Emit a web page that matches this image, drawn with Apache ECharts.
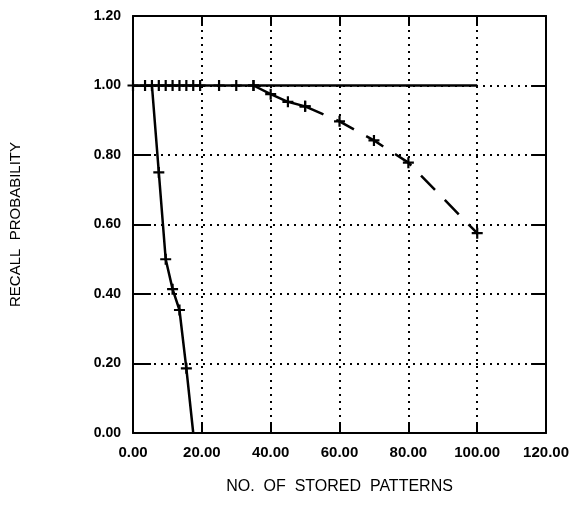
<!DOCTYPE html>
<html>
<head>
<meta charset="utf-8">
<script src="https://cdn.jsdelivr.net/npm/echarts@6/dist/echarts.min.js"></script>
<style>
  html, body { margin: 0; padding: 0; background: #fff; }
  #chart { width: 572px; height: 511px; }
</style>
</head>
<body>
<div id="chart"></div>
<script>
// values
const xTicks = [0, 20, 40, 60, 80, 100, 120];
const yTicks = [0, 0.2, 0.4, 0.6, 0.8, 1.0, 1.2];

// flat line at 1.00
const flatX = [0, 3.5, 5.5, 7.5, 9.5, 11.5, 13.5, 15.5, 17.5, 19.5, 25, 30, 35];
const flatEnd = 100;
// curve leaving 1.00 at 35 (solid part, then dashed)
const solidX = [35, 40, 45, 50];
const solidY = [1.0, 0.975, 0.953, 0.94];
const dashX = [50, 60, 70, 80, 100];
const dashY = [0.94, 0.897, 0.842, 0.778, 0.575];
// steep line
const steepX = [5.5, 7.5, 9.5, 11.5, 13.5, 15.5, 17.5];
const steepY = [1.0, 0.75, 0.5, 0.414, 0.354, 0.186, 0.0];

const plus = 'path://M4,0H6V10H4Z M0,4H10V6H0Z';
const font = 'Liberation Sans';

const pairs = (xs, ys) => xs.map((x, i) => [x, ys[i]]);

const flatData = flatX.map(x => [x, 1.0]);
flatData.push({ value: [flatEnd, 1.0], symbol: 'none' });

const steepData = pairs(steepX, steepY).map((p, i, a) =>
  (i === 0 || i === a.length - 1) ? { value: p, symbol: 'none' } : p);

const lineSeries = (data, type) => ({
  type: 'line',
  data: data,
  symbol: plus,
  symbolSize: 11,
  showSymbol: true,
  itemStyle: { color: '#000' },
  lineStyle: { color: '#000', width: 2.5, type: type },
  animation: false,
  z: 5
});

const frameLine = { show: true, onZero: false, lineStyle: { color: '#000', width: 2 } };
const tick = len => ({ show: true, inside: true, length: len, lineStyle: { color: '#000', width: 2 } });
const dotted = { show: true, lineStyle: { color: '#000', width: 2, type: [2, 5] } };

const chart = echarts.init(document.getElementById('chart'));
chart.setOption({
  backgroundColor: '#fff',
  grid: { left: 131, right: 25, top: 16, bottom: 78 },
  xAxis: [{
    type: 'value', min: 0, max: 120, interval: 20,
    name: 'NO.  OF  STORED  PATTERNS', nameLocation: 'middle', nameGap: 46,
    nameTextStyle: { fontFamily: font, fontSize: 16, color: '#000' },
    axisLine: frameLine,
    axisTick: tick(10),
    axisLabel: {
      fontFamily: font, fontWeight: 'bold', fontSize: 15, color: '#000', margin: 12,
      formatter: v => v.toFixed(2)
    },
    splitLine: dotted
  }, {
    type: 'value', position: 'top', min: 0, max: 120, interval: 20,
    axisLine: frameLine,
    axisTick: tick(10),
    axisLabel: { show: false },
    splitLine: { show: false }
  }],
  yAxis: [{
    type: 'value', min: 0, max: 1.2, interval: 0.2,
    name: 'RECALL  PROBABILITY', nameLocation: 'middle', nameGap: 110,
    nameTextStyle: { fontFamily: font, fontSize: 15, color: '#000' },
    axisLine: frameLine,
    axisTick: tick(18),
    axisLabel: {
      fontFamily: font, fontWeight: 'bold', fontSize: 14, color: '#000', margin: 12,
      formatter: v => v.toFixed(2)
    },
    splitLine: dotted
  }, {
    type: 'value', position: 'right', min: 0, max: 1.2, interval: 0.2,
    axisLine: frameLine,
    axisTick: tick(15),
    axisLabel: { show: false },
    splitLine: { show: false }
  }],
  series: [
    lineSeries(flatData, 'solid'),
    lineSeries(pairs(solidX, solidY), 'solid'),
    lineSeries(pairs(dashX, dashY), [20, 14]),
    lineSeries(steepData, 'solid')
  ]
});
</script>
</body>
</html>
